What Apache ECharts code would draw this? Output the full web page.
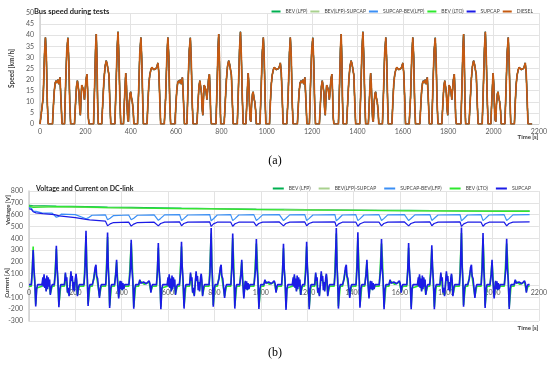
<!DOCTYPE html>
<html><head><meta charset="utf-8">
<script src="https://cdn.jsdelivr.net/npm/echarts@6/dist/echarts.min.js"></script>
<style>html,body{margin:0;padding:0;background:#fff}#c{width:550px;height:365px}</style>
</head><body><div id="c"></div>
<script>
// ---------- DATA ----------
const seriesNames = ['BEV (LFP)', 'BEV(LFP)-SUPCAP', 'SUPCAP-BEV(LFP)', 'BEV (LTO)', 'SUPCAP', 'DIESEL'];
const xTicks = [0, 200, 400, 600, 800, 1000, 1200, 1400, 1600, 1800, 2000, 2200];
const speedTicks = [0, 5, 10, 15, 20, 25, 30, 35, 40, 45, 50];
const dcTicks = [-300, -200, -100, 0, 100, 200, 300, 400, 500, 600, 700, 800];

// Bus speed [km/h] vs time [s], test cycle 1..4
const speedC1 = [[0,0],[8,0],[14,12],[20,32],[24,39],[28,30],[32,10],[36,0],
[55,0],[60,10],[63,15],[67,18.5],[71,19.5],[75,18.5],[79,20],[83,18],[88,21],[92,12],[97,0],
[108,0],[113,18],[118,33],[123,38.8],[127,28],[131,10],[135,0],
[152,0],[157,10],[161,17],[165,19.5],[169,19],[172,14],[175,7],[178,4],[181,12],[184,17.5],[188,16.5],[192,15],[196,11],[199,15],[203,20],[207,22.5],[210,15],[213,3],[216,0],
[236,0],[241,18],[245,34],[248,40.5],[251,30],[254,10],[257,0],
[272,0],[277,10],[282,20],[287,26],[292,28.5],[296,27],[300,27],[304,22],[308,10],[312,0],
[330,0],[335,16],[340,34],[344,41.5],[348,30],[352,12],[356,0],
[368,0],[373,12],[378,23],[381,18],[384,8],[387,2],[390,1],[393,9],[397,13.5],[400,14.5],[403,12],[407,10],[411,6],[414,0],
[430,0],[435,15],[440,32],[445,39],[449,28],[453,10],[456,0],
[472,0],[476,10],[480,18],[484,22],[489,24.5],[493,25.5],[497,25],[502,24.5],[507,25],[512,25],[516,26],[520,27.5],[524,23],[528,12],[532,0]];
const speedC2 = [[540,0],[548,0],[554,12],[560,32],[564,39],[568,30],[572,10],[576,0],
[595,0],[600,10],[603,15],[607,18.5],[611,19.5],[615,18.5],[619,20],[623,18],[628,21],[632,12],[637,0],
[648,0],[653,18],[658,33],[663,38.8],[667,28],[671,10],[675,0],
[692,0],[697,10],[701,17],[705,19.5],[709,19],[712,14],[715,7],[718,4],[721,12],[724,17.5],[728,16.5],[732,15],[736,11],[739,15],[743,20],[747,22.5],[750,15],[753,3],[756,0],
[776,0],[781,18],[785,34],[788,40.5],[791,30],[794,10],[797,0],
[812,0],[817,10],[822,20],[827,26],[832,28.5],[836,27],[840,27],[844,22],[848,10],[852,0],
[870,0],[875,16],[880,34],[884,41.5],[888,30],[892,12],[896,0],
[908,0],[913,12],[918,23],[921,18],[924,8],[927,2],[930,1],[933,9],[937,13.5],[940,14.5],[943,12],[947,10],[951,6],[954,0],
[970,0],[975,15],[980,32],[985,39],[989,28],[993,10],[996,0],
[1012,0],[1016,10],[1020,18],[1024,22],[1029,24.5],[1033,25.5],[1037,25],[1042,24.5],[1047,25],[1052,25],[1056,26],[1060,27.5],[1064,23],[1068,12],[1072,0]];
const speedC3 = [[1080,0],[1088,0],[1094,12],[1100,32],[1104,39],[1108,30],[1112,10],[1116,0],
[1135,0],[1140,10],[1143,15],[1147,18.5],[1151,19.5],[1155,18.5],[1159,20],[1163,18],[1168,21],[1172,12],[1177,0],
[1188,0],[1193,18],[1198,33],[1203,38.8],[1207,28],[1211,10],[1215,0],
[1232,0],[1237,10],[1241,17],[1245,19.5],[1249,19],[1252,14],[1255,7],[1258,4],[1261,12],[1264,17.5],[1268,16.5],[1272,15],[1276,11],[1279,15],[1283,20],[1287,22.5],[1290,15],[1293,3],[1296,0],
[1316,0],[1321,18],[1325,34],[1328,40.5],[1331,30],[1334,10],[1337,0],
[1352,0],[1357,10],[1362,20],[1367,26],[1372,28.5],[1376,27],[1380,27],[1384,22],[1388,10],[1392,0],
[1410,0],[1415,16],[1420,34],[1424,41.5],[1428,30],[1432,12],[1436,0],
[1448,0],[1453,12],[1458,23],[1461,18],[1464,8],[1467,2],[1470,1],[1473,9],[1477,13.5],[1480,14.5],[1483,12],[1487,10],[1491,6],[1494,0],
[1510,0],[1515,15],[1520,32],[1525,39],[1529,28],[1533,10],[1536,0],
[1552,0],[1556,10],[1560,18],[1564,22],[1569,24.5],[1573,25.5],[1577,25],[1582,24.5],[1587,25],[1592,25],[1596,26],[1600,27.5],[1604,23],[1608,12],[1612,0]];
const speedC4 = [[1620,0],[1628,0],[1634,12],[1640,32],[1644,39],[1648,30],[1652,10],[1656,0],
[1675,0],[1680,10],[1683,15],[1687,18.5],[1691,19.5],[1695,18.5],[1699,20],[1703,18],[1708,21],[1712,12],[1717,0],
[1728,0],[1733,18],[1738,33],[1743,38.8],[1747,28],[1751,10],[1755,0],
[1772,0],[1777,10],[1781,17],[1785,19.5],[1789,19],[1792,14],[1795,7],[1798,4],[1801,12],[1804,17.5],[1808,16.5],[1812,15],[1816,11],[1819,15],[1823,20],[1827,22.5],[1830,15],[1833,3],[1836,0],
[1856,0],[1861,18],[1865,34],[1868,40.5],[1871,30],[1874,10],[1877,0],
[1892,0],[1897,10],[1902,20],[1907,26],[1912,28.5],[1916,27],[1920,27],[1924,22],[1928,10],[1932,0],
[1950,0],[1955,16],[1960,34],[1964,41.5],[1968,30],[1972,12],[1976,0],
[1988,0],[1993,12],[1998,23],[2001,18],[2004,8],[2007,2],[2010,1],[2013,9],[2017,13.5],[2020,14.5],[2023,12],[2027,10],[2031,6],[2034,0],
[2050,0],[2055,15],[2060,32],[2065,39],[2069,28],[2073,10],[2076,0],
[2092,0],[2096,10],[2100,18],[2104,22],[2109,24.5],[2113,25.5],[2117,25],[2122,24.5],[2127,25],[2132,25],[2136,26],[2140,27.5],[2144,23],[2148,12],[2152,0],[2170,0]];

// DC-link current [A], SUPCAP, cycles 1..4
const curSupC1 = [[0,8],[10,8],[14,120],[18,300],[21,150],[25,40],[29,-178],[33,-30],[37,8],
[56,8],[60,70],[62,-10],[65,95],[68,-20],[71,60],[74,-50],[77,85],[80,-30],[83,70],[86,-10],[89,50],[92,-80],[96,-20],[100,8],
[109,8],[114,110],[118,336],[121,160],[125,40],[129,-183],[133,-30],[137,8],
[153,8],[157,110],[160,40],[163,70],[166,-60],[170,-20],[173,-90],[177,10],[181,120],[184,40],[187,80],[190,-40],[193,30],[196,-50],[200,60],[203,100],[206,40],[209,-90],[213,-20],[217,8],
[237,8],[241,110],[246,463],[249,160],[252,50],[255,-172],[259,-30],[263,8],
[273,8],[280,60],[285,150],[289,175],[292,80],[296,60],[300,50],[304,-104],[308,-20],[312,8],
[331,8],[335,140],[339,449],[342,150],[345,40],[348,-190],[352,-30],[356,8],
[369,8],[374,90],[378,218],[381,60],[384,-20],[387,-110],[390,-30],[393,40],[396,-30],[399,35],[402,-40],[405,20],[409,-30],[413,8],
[431,8],[437,130],[441,387],[444,150],[448,40],[452,-197],[456,-30],[460,8],
[473,8],[478,50],[482,20],[486,35],[490,15],[494,30],[498,20],[502,35],[506,15],[510,30],[514,20],[518,40],[522,15],[526,-60],[529,-10],[533,8]];
const curSupC2 = [[540,8],[550,8],[554,120],[558,360],[561,150],[565,40],[569,-200],[573,-30],[577,8],
[596,8],[600,70],[602,-10],[605,95],[608,-20],[611,60],[614,-50],[617,85],[620,-30],[623,70],[626,-10],[629,50],[632,-80],[636,-20],[640,8],
[649,8],[654,110],[658,370],[661,160],[665,40],[669,-195],[673,-30],[677,8],
[693,8],[697,110],[700,40],[703,70],[706,-60],[710,-20],[713,-90],[717,10],[721,120],[724,40],[727,80],[730,-40],[733,30],[736,-50],[740,60],[743,100],[746,40],[749,-90],[753,-20],[757,8],
[777,8],[781,110],[786,486],[789,160],[792,50],[795,-180],[799,-30],[803,8],
[813,8],[820,60],[825,150],[829,175],[832,80],[836,60],[840,50],[844,-104],[848,-20],[852,8],
[871,8],[875,140],[879,440],[882,150],[885,40],[888,-195],[892,-30],[896,8],
[909,8],[914,90],[918,218],[921,60],[924,-20],[927,-110],[930,-30],[933,40],[936,-30],[939,35],[942,-40],[945,20],[949,-30],[953,8],
[971,8],[977,130],[981,393],[984,150],[988,40],[992,-198],[996,-30],[1000,8],
[1013,8],[1018,50],[1022,20],[1026,35],[1030,15],[1034,30],[1038,20],[1042,35],[1046,15],[1050,30],[1054,20],[1058,40],[1062,15],[1066,-60],[1069,-10],[1073,8]];
const curSupC3 = [[1080,8],[1090,8],[1094,120],[1098,353],[1101,150],[1105,40],[1109,-206],[1113,-30],[1117,8],
[1136,8],[1140,70],[1142,-10],[1145,95],[1148,-20],[1151,60],[1154,-50],[1157,85],[1160,-30],[1163,70],[1166,-10],[1169,50],[1172,-80],[1176,-20],[1180,8],
[1189,8],[1194,110],[1198,370],[1201,160],[1205,40],[1209,-200],[1213,-30],[1217,8],
[1233,8],[1237,110],[1240,40],[1243,70],[1246,-60],[1250,-20],[1253,-90],[1257,10],[1261,120],[1264,40],[1267,80],[1270,-40],[1273,30],[1276,-50],[1280,60],[1283,100],[1286,40],[1289,-90],[1293,-20],[1297,8],
[1317,8],[1321,110],[1326,486],[1329,160],[1332,50],[1335,-195],[1339,-30],[1343,8],
[1353,8],[1360,60],[1365,150],[1369,175],[1372,80],[1376,60],[1380,50],[1384,-104],[1388,-20],[1392,8],
[1411,8],[1415,140],[1419,450],[1422,150],[1425,40],[1428,-187],[1432,-30],[1436,8],
[1449,8],[1454,90],[1458,218],[1461,60],[1464,-20],[1467,-110],[1470,-30],[1473,40],[1476,-30],[1479,35],[1482,-40],[1485,20],[1489,-30],[1493,8],
[1511,8],[1517,130],[1521,393],[1524,150],[1528,40],[1532,-200],[1536,-30],[1540,8],
[1553,8],[1558,50],[1562,20],[1566,35],[1570,15],[1574,30],[1578,20],[1582,35],[1586,15],[1590,30],[1594,20],[1598,40],[1602,15],[1606,-60],[1609,-10],[1613,8]];
const curSupC4 = [[1620,8],[1630,8],[1634,120],[1638,359],[1641,150],[1645,40],[1649,-200],[1653,-30],[1657,8],
[1676,8],[1680,70],[1682,-10],[1685,95],[1688,-20],[1691,60],[1694,-50],[1697,85],[1700,-30],[1703,70],[1706,-10],[1709,50],[1712,-80],[1716,-20],[1720,8],
[1729,8],[1734,110],[1738,340],[1741,160],[1745,40],[1749,-200],[1753,-30],[1757,8],
[1773,8],[1777,110],[1780,40],[1783,70],[1786,-60],[1790,-20],[1793,-90],[1797,10],[1801,120],[1804,40],[1807,80],[1810,-40],[1813,30],[1816,-50],[1820,60],[1823,100],[1826,40],[1829,-90],[1833,-20],[1837,8],
[1857,8],[1861,110],[1866,490],[1869,160],[1872,50],[1875,-180],[1879,-30],[1883,8],
[1893,8],[1900,60],[1905,150],[1909,175],[1912,80],[1916,60],[1920,50],[1924,-104],[1928,-20],[1932,8],
[1951,8],[1955,140],[1959,445],[1962,150],[1965,40],[1968,-190],[1972,-30],[1976,8],
[1989,8],[1994,90],[1998,218],[2001,60],[2004,-20],[2007,-110],[2010,-30],[2013,40],[2016,-30],[2019,35],[2022,-40],[2025,20],[2029,-30],[2033,8],
[2051,8],[2057,130],[2061,395],[2064,150],[2068,40],[2072,-198],[2076,-30],[2080,8],
[2093,8],[2098,50],[2102,20],[2106,35],[2110,15],[2114,30],[2118,20],[2122,35],[2126,15],[2130,30],[2134,20],[2138,40],[2142,15],[2146,-60],[2149,-10],[2153,8],[2160,8]];

// DC-link current [A], BEV (LTO)
const curLto = [[0,-6],[10,-6],[14,130],[18,330],[21,140],[25,20],[29,-160],[33,-20],[37,-6],[56,-6],[65,80],[74,-40],[83,60],[92,-70],[100,-6],[109,-6],[118,310],[122,120],[129,-165],[137,-6],[153,-6],[157,100],[166,-50],[173,-80],[181,100],[196,-40],[203,90],[209,-80],[217,-6],[237,-6],[246,420],[250,130],[255,-155],[263,-6],[273,-6],[285,130],[289,110],[296,100],[304,-90],[312,-6],[331,-6],[339,410],[343,120],[348,-170],[356,-6],[369,-6],[378,200],[387,-95],[393,30],[402,-35],[413,-6],[431,-6],[441,360],[445,220],[452,-180],[460,-6],[473,-6],[478,40],[498,10],[518,30],[526,-50],[533,-6],
[540,-6],[550,-6],[554,130],[558,320],[561,140],[565,20],[569,-180],[573,-20],[577,-6],[596,-6],[605,80],[614,-40],[623,60],[632,-70],[640,-6],[649,-6],[658,330],[662,120],[669,-175],[677,-6],[693,-6],[697,100],[706,-50],[713,-80],[721,100],[736,-40],[743,90],[749,-80],[757,-6],[777,-6],[786,440],[790,130],[795,-165],[803,-6],[813,-6],[825,130],[829,110],[836,100],[844,-90],[852,-6],[871,-6],[879,400],[883,210],[888,-175],[896,-6],[909,-6],[918,200],[927,-95],[933,30],[942,-35],[953,-6],[971,-6],[981,355],[985,220],[992,-180],[1000,-6],[1013,-6],[1018,40],[1038,10],[1058,30],[1066,-50],[1073,-6],
[1080,-6],[1090,-6],[1094,130],[1098,315],[1101,140],[1105,20],[1109,-185],[1113,-20],[1117,-6],[1136,-6],[1145,80],[1154,-40],[1163,60],[1172,-70],[1180,-6],[1189,-6],[1198,330],[1202,120],[1209,-180],[1217,-6],[1233,-6],[1237,100],[1246,-50],[1253,-80],[1261,100],[1276,-40],[1283,90],[1289,-80],[1297,-6],[1317,-6],[1326,440],[1330,130],[1335,-175],[1343,-6],[1353,-6],[1365,130],[1369,110],[1376,100],[1384,-90],[1392,-6],[1411,-6],[1419,405],[1423,210],[1428,-170],[1436,-6],[1449,-6],[1458,200],[1467,-95],[1473,30],[1482,-35],[1493,-6],[1511,-6],[1521,355],[1525,220],[1532,-180],[1540,-6],[1553,-6],[1558,40],[1578,10],[1598,30],[1606,-50],[1613,-6],
[1620,-6],[1630,-6],[1634,130],[1638,320],[1641,140],[1645,20],[1649,-180],[1653,-20],[1657,-6],[1676,-6],[1685,80],[1694,-40],[1703,60],[1712,-70],[1720,-6],[1729,-6],[1738,305],[1742,120],[1749,-180],[1757,-6],[1773,-6],[1777,100],[1786,-50],[1793,-80],[1801,100],[1816,-40],[1823,90],[1829,-80],[1837,-6],[1857,-6],[1866,445],[1870,130],[1875,-165],[1883,-6],[1893,-6],[1905,130],[1909,110],[1916,100],[1924,-90],[1932,-6],[1951,-6],[1959,400],[1963,210],[1968,-170],[1976,-6],[1989,-6],[1998,200],[2007,-95],[2013,30],[2022,-35],[2033,-6],[2051,-6],[2061,355],[2065,220],[2072,-180],[2080,-6],[2093,-6],[2098,40],[2118,10],[2138,30],[2146,-50],[2153,-6],[2160,-6]];

// DC-link voltage [V]
const voltBevLfp = [[0,678],[16,677],[18,668],[24,674],[118,672],[120,663],[126,670],[246,668],[248,659],[254,665],[339,664],[341,656],[347,662],[441,661],[443,653],[449,659],[558,658],[560,650],[566,656],[658,655],[660,647],[666,653],[786,652],[788,644],[794,650],[879,649],[881,642],[887,647],[981,646],[983,639],[989,645],[1098,644],[1100,637],[1106,643],[1198,642],[1200,635],[1206,641],[1326,640],[1328,633],[1334,639],[1419,639],[1421,632],[1427,638],[1521,637],[1523,631],[1529,636],[1638,636],[1640,630],[1646,635],[1738,635],[1740,629],[1746,634],[1866,634],[1868,627],[1874,633],[1959,633],[1961,627],[1967,632],[2061,632],[2063,626],[2069,631],[2160,631]];
const voltBevLfpSup = [[0,670],[300,660],[540,652],[1080,642],[1620,634],[2160,629]];
const voltSupBevLfp = [[0,662],[10,655],[18,630],[30,628],[55,615],[100,613],[118,578],[128,585],[140,605],[200,600],[246,565],[258,575],[272,595],[330,598],[339,557],[350,570],[365,592],[430,597],[441,557],[452,570],[468,595],[540,598],
[558,552],[568,568],[585,598],[650,600],[658,550],[668,566],[685,597],[780,600],[786,548],[796,565],[812,597],[870,600],[879,549],[889,566],[905,597],[970,600],[981,550],[991,566],[1008,598],[1080,600],
[1098,550],[1108,567],[1125,598],[1190,600],[1198,550],[1208,566],[1225,597],[1320,600],[1326,548],[1336,565],[1352,597],[1410,600],[1419,549],[1429,566],[1445,597],[1510,600],[1521,550],[1531,566],[1548,598],[1620,600],
[1638,550],[1648,567],[1665,598],[1730,600],[1738,551],[1748,567],[1765,597],[1860,600],[1866,547],[1876,565],[1892,597],[1950,600],[1959,549],[1969,566],[1985,597],[2050,600],[2061,550],[2071,566],[2088,598],[2160,600]];
const voltBevLto = [[0,672],[18,662],[24,669],[118,667],[120,658],[126,665],[246,663],[248,654],[254,660],[339,659],[341,651],[347,657],[441,656],[443,648],[449,654],[558,653],[560,645],[566,651],[786,648],[788,640],[794,646],[981,643],[983,636],[989,641],[1100,640],[1102,633],[1108,639],[1328,637],[1330,630],[1336,635],[1523,634],[1525,627],[1531,632],[1640,632],[1642,626],[1648,631],[1868,630],[1870,624],[1876,629],[2063,628],[2065,622],[2071,627],[2160,627]];
const voltSup = [[0,650],[10,645],[18,625],[30,615],[60,608],[110,600],[118,585],[130,590],[200,575],[246,560],[250,548],[262,556],[330,545],[339,505],[350,522],[365,533],[430,536],[441,503],[452,520],[468,533],[540,536],
[558,505],[568,525],[585,537],[650,538],[658,505],[668,525],[685,537],[780,538],[786,500],[796,522],[812,536],[870,537],[879,502],[889,523],[905,536],[970,537],[981,505],[991,525],[1008,537],[1080,538],
[1098,505],[1108,525],[1125,537],[1190,538],[1198,505],[1208,525],[1225,537],[1320,538],[1326,500],[1336,522],[1352,536],[1410,537],[1419,502],[1429,523],[1445,536],[1510,537],[1521,505],[1531,525],[1548,537],[1620,538],
[1638,505],[1648,525],[1665,537],[1730,538],[1738,506],[1748,525],[1765,537],[1860,538],[1866,500],[1876,522],[1892,536],[1950,537],[1959,502],[1969,523],[1985,536],[2050,537],[2061,505],[2071,525],[2088,537],[2160,538]];

// ---------- CHART ----------
const colors = {'BEV (LFP)':'#00b050','BEV(LFP)-SUPCAP':'#a9d18e','SUPCAP-BEV(LFP)':'#3b8ff5','BEV (LTO)':'#2ee82e','SUPCAP':'#1b1be6','DIESEL':'#c55a11'};
const speed = speedC1.concat(speedC2, speedC3, speedC4);
const curSup = curSupC1.concat(curSupC2, curSupC3, curSupC4);
const FONT = 'Lato';
const gridLine = {show:true, lineStyle:{color:'#e3e3e3', width:1}};
const axLabel = {fontSize:7, color:'#595959', fontFamily:FONT, formatter: v => String(v)};

function line(name, data, xi, yi, w, z) {
  return {type:'line', name:name, data:data, xAxisIndex:xi, yAxisIndex:yi, showSymbol:false, symbol:'none',
    lineStyle:{width:w, color:colors[name]}, itemStyle:{color:colors[name]}, z:z, silent:true};
}

const series = [];
seriesNames.forEach((n,i) => series.push(line(n, speed, 0, 0, n==='DIESEL'?1.7:1.2, 2+i)));
series.push(line('BEV (LFP)', voltBevLfp, 1, 1, 1.2, 2));
series.push(line('BEV(LFP)-SUPCAP', voltBevLfpSup, 1, 1, 1.2, 3));
series.push(line('SUPCAP-BEV(LFP)', voltSupBevLfp, 1, 1, 1.2, 4));
series.push(line('BEV (LTO)', voltBevLto, 1, 1, 1.2, 5));
series.push(line('SUPCAP', voltSup, 1, 1, 1.2, 6));
series.push(line('BEV (LTO)', curLto, 1, 1, 1.6, 5));
series.push(line('SUPCAP', curSup, 1, 1, 1.6, 6));

const legendText = {fontSize:5, color:'#404040', fontFamily:FONT};

const option = {
  animation:false,
  textStyle:{fontFamily:FONT},
  title:[
    {text:'Bus speed during tests', left:29, top:3, textStyle:{fontSize:7.5, fontWeight:'bold', color:'#262626', fontFamily:FONT}},
    {text:'Voltage and Current on DC-link', left:31, top:180, textStyle:{fontSize:7, fontWeight:'bold', color:'#262626', fontFamily:FONT}}
  ],
  legend:[
    {data:seriesNames, right:12, top:4, itemGap:3, icon:'rect', itemWidth:9, itemHeight:2, textStyle:legendText},
    {data:seriesNames.slice(0,5), right:14, top:181, itemGap:8, icon:'rect', itemWidth:11, itemHeight:2, textStyle:legendText}
  ],
  grid:[
    {left:29, right:11, top:13, bottom:241, containLabel:false},
    {left:29, right:11, top:191, bottom:44, containLabel:false}
  ],
  xAxis:[
    {type:'value', gridIndex:0, min:xTicks[0], max:xTicks[xTicks.length-1], interval:200,
     axisLine:{show:true, lineStyle:{color:'#d0d0d0'}}, axisTick:{show:false}, axisLabel:Object.assign({margin:4}, axLabel), splitLine:gridLine},
    {type:'value', gridIndex:1, min:xTicks[0], max:xTicks[xTicks.length-1], interval:200, position:'bottom', offset:-35.5,
     axisLine:{show:false, onZero:false}, axisTick:{show:false}, axisLabel:Object.assign({margin:4}, axLabel), splitLine:gridLine}
  ],
  yAxis:[
    {type:'value', gridIndex:0, min:speedTicks[0], max:speedTicks[speedTicks.length-1], interval:5,
     name:'Speed [km/h]', nameLocation:'middle', nameGap:18, nameTextStyle:{fontSize:6.5, fontWeight:'bold', color:'#404040', fontFamily:FONT},
     axisLine:{show:true, lineStyle:{color:'#d0d0d0', width:1.5}}, axisTick:{show:false}, axisLabel:Object.assign({margin:6}, axLabel), splitLine:gridLine},
    {type:'value', gridIndex:1, min:dcTicks[0], max:dcTicks[dcTicks.length-1], interval:100,
     axisLine:{show:true, lineStyle:{color:'#d0d0d0', width:1.5}}, axisTick:{show:false}, axisLabel:Object.assign({margin:6}, axLabel), splitLine:gridLine}
  ],
  graphic:[
    {type:'text', x:275, y:161, style:{text:'(a)', font:'12px "Liberation Serif"', fill:'#000', align:'center', verticalAlign:'middle'}},
    {type:'text', x:275, y:353, style:{text:'(b)', font:'12px "Liberation Serif"', fill:'#000', align:'center', verticalAlign:'middle'}},
    {type:'text', x:528, y:137.5, style:{text:'Time [s]', font:'bold 6px Lato', fill:'#404040', align:'center', verticalAlign:'middle'}},
    {type:'text', x:528, y:328, style:{text:'Time [s]', font:'bold 6px Lato', fill:'#404040', align:'center', verticalAlign:'middle'}},
    {type:'text', x:8.5, y:210, rotation:Math.PI/2, style:{text:'Voltage [V]', font:'bold 6px Lato', fill:'#404040', align:'center', verticalAlign:'middle'}},
    {type:'text', x:7.5, y:283, rotation:Math.PI/2, style:{text:'Current [A]', font:'bold 6px Lato', fill:'#404040', align:'center', verticalAlign:'middle'}}
  ],
  series:series
};
const chart = echarts.init(document.getElementById('c'), null, {renderer:'canvas'});
chart.setOption(option);
</script></body></html>
